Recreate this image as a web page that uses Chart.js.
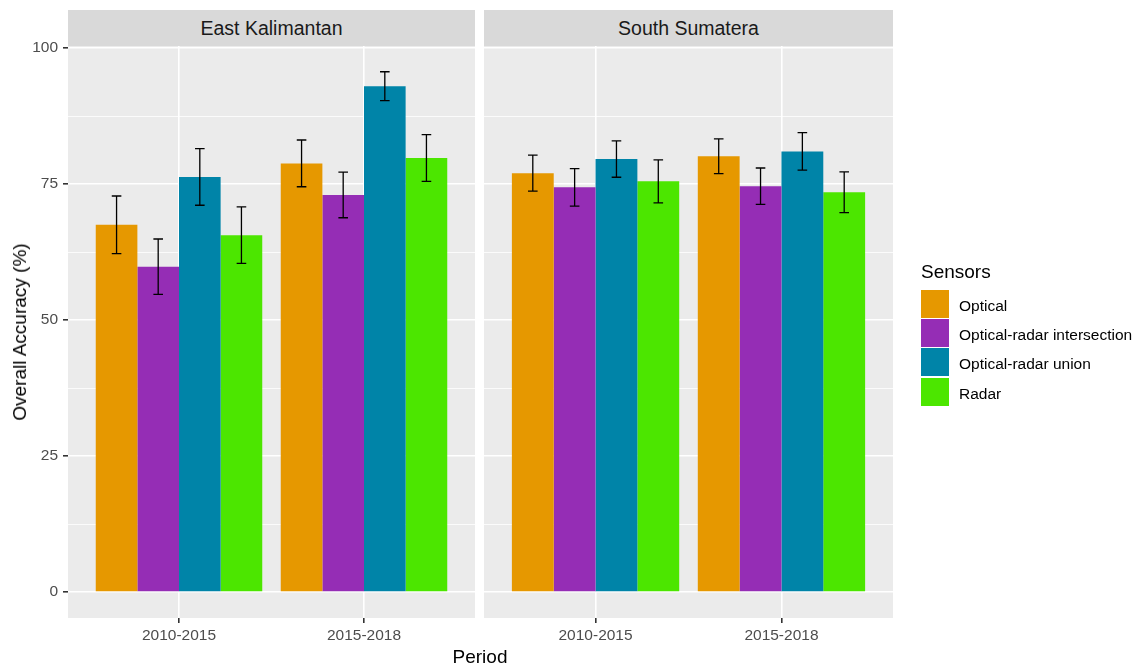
<!DOCTYPE html>
<html>
<head>
<meta charset="utf-8">
<script src="https://cdn.jsdelivr.net/npm/chart.js@4.4.0/dist/chart.umd.min.js"></script>
<style>
  html, body { margin:0; padding:0; background:#fff; }
  body { width:1141px; height:666px; position:relative; overflow:hidden; font-family:"Liberation Sans", Arial, sans-serif; }
  canvas { position:absolute; left:0; top:0; }
  .strip { position:absolute; top:10px; height:36px; background:#D9D9D9; color:#1A1A1A; font-size:19.5px; line-height:36px; text-align:center; }
  .ytitle { position:absolute; left:20px; top:332px; transform:translate(-50%,-50%) rotate(-90deg); font-size:19px; white-space:nowrap; color:#000; }
  .xtitle { position:absolute; left:480px; top:657px; transform:translate(-50%,-50%); font-size:19px; color:#000; }
  .legend { position:absolute; left:921px; top:260px; }
  .legend .title { font-size:19px; color:#000; height:28px; padding-top:1px; }
  .legend .row { height:29.3px; display:flex; align-items:center; }
  .legend .key { width:28px; height:28px; margin-right:10px; }
  .legend .lab { font-size:15.5px; color:#000; position:relative; top:2px; }
</style>
</head>
<body>
<canvas id="east" width="1141" height="666"></canvas>
<canvas id="south" width="1141" height="666"></canvas>
<div class="strip" style="left:68px;width:407px;">East Kalimantan</div>
<div class="strip" style="left:484px;width:409px;">South Sumatera</div>
<div class="ytitle">Overall Accuracy (%)</div>
<div class="xtitle">Period</div>
<div class="legend" id="legend"><div class="title">Sensors</div></div>
<script>
// Data
const periods = ['2010-2015', '2015-2018'];
const sensors = ['Optical', 'Optical-radar intersection', 'Optical-radar union', 'Radar'];
const sensorColors = ['#E69800', '#952DB5', '#0084A8', '#4CE600'];
const yTicks = [0, 12.5, 25, 37.5, 50, 62.5, 75, 87.5, 100];

// East Kalimantan: means and +/- error
const eastOptical = [67.5, 78.8];
const eastIntersection = [59.8, 73.0];
const eastUnion = [76.3, 93.0];
const eastRadar = [65.6, 79.8];
const eastOpticalErr = [5.3, 4.3];
const eastIntersectionErr = [5.1, 4.2];
const eastUnionErr = [5.2, 2.65];
const eastRadarErr = [5.2, 4.3];

// South Sumatera
const southOptical = [77.0, 80.1];
const southIntersection = [74.4, 74.6];
const southUnion = [79.6, 81.0];
const southRadar = [75.5, 73.5];
const southOpticalErr = [3.3, 3.2];
const southIntersectionErr = [3.45, 3.35];
const southUnionErr = [3.35, 3.45];
const southRadarErr = [3.95, 3.75];

Chart.defaults.font.family = '"Liberation Sans", Arial, sans-serif';

// fond panelu
const panelBg = {
  id: 'panelBg',
  beforeDraw(chart) {
    const a = chart.chartArea, ctx = chart.ctx;
    ctx.save();
    ctx.fillStyle = '#EBEBEB';
    ctx.fillRect(a.left, a.top, a.right - a.left, a.bottom - a.top);
    ctx.restore();
  }
};

// słupki błędów
const errorBars = {
  id: 'errorBars',
  afterDatasetsDraw(chart) {
    const ctx = chart.ctx, y = chart.scales.y;
    ctx.save();
    ctx.strokeStyle = '#000';
    ctx.lineWidth = 1.3;
    chart.data.datasets.forEach((ds, di) => {
      chart.getDatasetMeta(di).data.forEach((bar, i) => {
        const m = ds.data[i].y, e = ds.err[i];
        const top = y.getPixelForValue(m + e), bot = y.getPixelForValue(m - e);
        const half = 4.8;
        ctx.beginPath();
        ctx.moveTo(bar.x, top); ctx.lineTo(bar.x, bot);
        ctx.moveTo(bar.x - half, top); ctx.lineTo(bar.x + half, top);
        ctx.moveTo(bar.x - half, bot); ctx.lineTo(bar.x + half, bot);
        ctx.stroke();
      });
    });
    ctx.restore();
  }
};

function makeDatasets(means, errs) {
  return sensors.map((s, k) => ({
    label: s,
    data: means[k].map((v, i) => ({ x: i + 1, y: v })),
    err: errs[k],
    backgroundColor: sensorColors[k],
    borderWidth: 0,
    categoryPercentage: 0.9,
    barPercentage: 1.0
  }));
}

function makeChart(id, means, errs, padLeft, padRight, showY) {
  return new Chart(document.getElementById(id), {
    type: 'bar',
    data: { datasets: makeDatasets(means, errs) },
    options: {
      responsive: false,
      animation: false,
      layout: { padding: { left: padLeft, right: padRight, top: 46, bottom: 0 } },
      plugins: { legend: { display: false }, tooltip: { enabled: false } },
      scales: {
        x: {
          type: 'linear',
          min: 0.4, max: 2.6,
          offset: false,
          afterBuildTicks: s => { s.ticks = periods.map((p, i) => ({ value: i + 1 })); },
          afterFit: s => { s.height = 48; },
          border: { display: false },
          grid: { offset: false, color: '#FFFFFF', lineWidth: 1.6, tickColor: '#333333', tickLength: 5 },
          ticks: {
            callback: v => periods[Math.round(v) - 1],
            color: '#4D4D4D', font: { size: 15.5 }, padding: 3, maxRotation: 0, autoSkip: false
          }
        },
        y: {
          min: -4.78, max: 100.38,
          afterBuildTicks: s => { s.ticks = yTicks.map(v => ({ value: v })); },
          afterFit: s => { s.width = showY ? 68 : 0; },
          border: { display: false },
          grid: {
            color: '#FFFFFF',
            lineWidth: c => (c.tick && c.tick.value % 25 === 0) ? 1.6 : 0.8,
            drawTicks: showY,
            tickLength: 5,
            tickColor: c => (c.tick && c.tick.value % 25 === 0) ? '#333333' : 'rgba(0,0,0,0)'
          },
          ticks: {
            display: showY,
            callback: v => (v % 25 === 0) ? String(v) : '',
            color: '#4D4D4D', font: { size: 15.5 }, padding: 5
          }
        }
      }
    },
    plugins: [panelBg, errorBars]
  });
}

makeChart('east',
  [eastOptical, eastIntersection, eastUnion, eastRadar],
  [eastOpticalErr, eastIntersectionErr, eastUnionErr, eastRadarErr],
  0, 1141 - 475, true);
makeChart('south',
  [southOptical, southIntersection, southUnion, southRadar],
  [southOpticalErr, southIntersectionErr, southUnionErr, southRadarErr],
  484, 1141 - 893, false);

// legenda
const legend = document.getElementById('legend');
sensors.forEach((s, k) => {
  const row = document.createElement('div');
  row.className = 'row';
  row.innerHTML = '<div class="key" style="background:' + sensorColors[k] + '"></div><span class="lab">' + s + '</span>';
  legend.appendChild(row);
});
</script>
</body>
</html>
